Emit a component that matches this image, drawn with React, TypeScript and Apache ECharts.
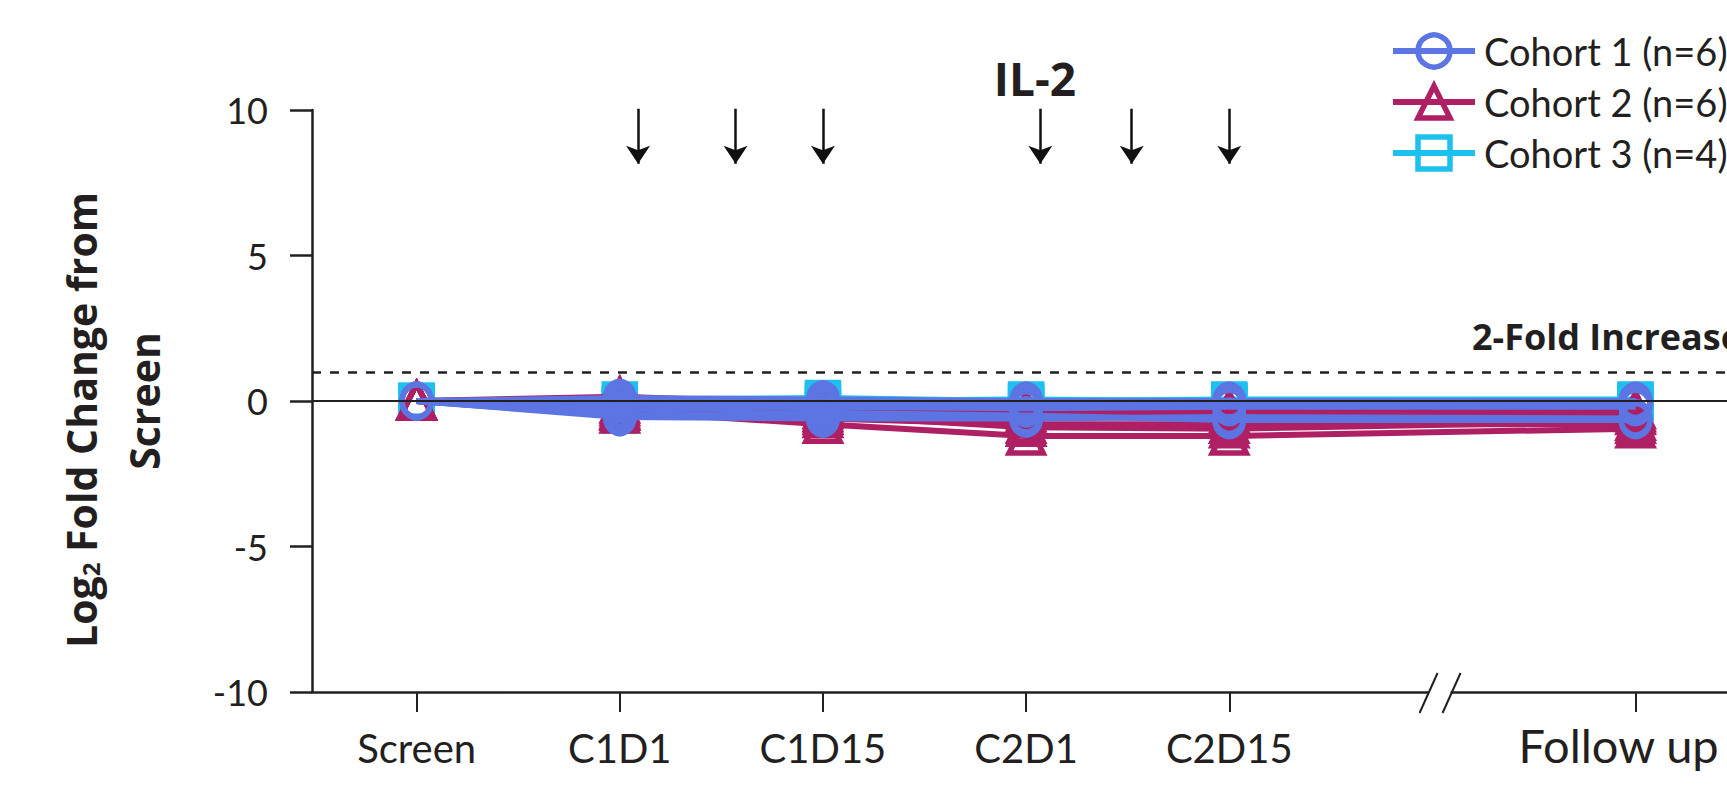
import React, { useEffect, useRef } from 'react';
import * as echarts from 'echarts';

// ---- data ----
const categories = ['Screen', 'C1D1', 'C1D15', 'C2D1', 'C2D15', '', 'Follow up'];
const timepointX = [0, 1, 2, 3, 4, 6];
const cohortNames = ['Cohort 1 (n=6)', 'Cohort 2 (n=6)', 'Cohort 3 (n=4)'];

// Log2 fold change from screen, one row per patient: Screen, C1D1, C1D15, C2D1, C2D15, Follow up
const cohort1 = [
  [0, 0.1, 0.05, 0.0, 0.0, 0.0],
  [0, -0.1, -0.05, -0.1, -0.05, -0.1],
  [0, -0.3, -0.2, -0.25, -0.2, -0.2],
  [0, -0.55, -0.6, -0.6, -0.55, -0.6],
  [0, 0.0, -0.1, -0.05, -0.1, -0.05],
  [0, -0.5, -0.4, -0.5, -0.65, -0.65],
];
const cohort2 = [
  [0, 0.15, -0.1, -0.3, -0.3, -0.3],
  [0, -0.2, -0.4, -0.5, -0.45, -0.4],
  [0, -0.35, -0.8, -1.2, -1.2, -0.95],
  [0, -0.45, -0.6, -0.8, -0.8, -0.8],
  [0, -0.1, -0.3, -0.4, -0.6, -0.5],
  [0, -0.3, -0.5, -0.9, -0.95, -0.7],
];
const cohort3 = [
  [0, 0.05, 0.1, 0.0, 0.05, 0.05],
  [0, -0.5, -0.3, -0.2, -0.1, -0.1],
  [0, -0.2, -0.1, -0.05, 0.0, 0.0],
  [0, -0.1, 0.0, 0.05, 0.0, -0.05],
];
const dosingArrows = [1.09, 1.57, 2, 3.07, 3.52, 4];
const yTickLabels = ['-10', '-5', '0', '5', '10'];
const twoFoldLevel = 1;
const axisBreakAt = 5.04;

const C1 = '#5C75E2';
const C2 = '#AE1F63';
const C3 = '#1DC0EF';
const INK = '#231F20';
const FONT = 'Lato';
const BOLD_FONT = 'Open Sans';

function cohortSeries(name: string, rows: number[][], color: string, symbol: string, size: any, z: number) {
  return rows.map((r) => ({
    type: 'line',
    name,
    data: r.map((v, i) => [timepointX[i], v]),
    symbol,
    symbolSize: size,
    showAllSymbol: true,
    lineStyle: { color, width: 6 },
    itemStyle: { color: 'rgba(255,255,255,0)', borderColor: color, borderWidth: 5.5 },
    emphasis: { disabled: true },
    z,
  }));
}

export default function App() {
  const ref = useRef<HTMLDivElement>(null);
  useEffect(() => {
    if (!ref.current) return;
    const chart = echarts.init(ref.current, undefined, { renderer: 'svg' });
    const option: any = {
      animation: false,
      textStyle: { fontFamily: FONT },
      title: {
        text: 'IL-2',
        left: 1030,
        textAlign: 'center',
        top: 50,
        textStyle: { fontSize: 46, fontWeight: 'bold', color: INK, fontFamily: BOLD_FONT },
      },
      legend: {
        data: cohortNames,
        orient: 'vertical',
        left: 1385,
        top: 27,
        itemWidth: 82,
        itemHeight: 40,
        itemGap: 13,
        selectedMode: false,
        lineStyle: { width: 6 },
        itemStyle: { borderWidth: 5.5 },
        textStyle: { fontSize: 38, color: INK, fontFamily: FONT, padding: [0, 0, 0, 4] },
      },
      grid: { left: 312, right: 0, top: 110, bottom: 93, containLabel: false, outerBoundsMode: 'none' },
      xAxis: {
        type: 'value',
        min: -0.515,
        max: 6.45,
        axisLine: { onZero: false, lineStyle: { color: INK, width: 2.5 } },
        axisTick: { customValues: timepointX, length: 20, lineStyle: { color: INK, width: 2 } },
        axisLabel: {
          customValues: timepointX,
          margin: 36,
          fontSize: 40,
          color: INK,
          fontFamily: FONT,
          hideOverlap: false,
          formatter: (v: number) => {
            const i = Math.round(v);
            return i === 6 ? '{f|' + categories[i] + '}' : categories[i];
          },
          rich: {
            f: { fontSize: 47, color: INK, fontFamily: FONT, padding: [0, 34, 0, 0], lineHeight: 34 },
          },
        },
        splitLine: { show: false },
      },
      yAxis: {
        type: 'value',
        min: -10,
        max: 10,
        interval: 5,
        name: '{a|Log}{s|2}{a| Fold Change from}{p| }\n{a|Screen}',
        nameLocation: 'middle',
        nameGap: 137,
        nameTextStyle: {
          lineHeight: 63,
          rich: {
            a: { fontSize: 41, fontWeight: 'bold', color: INK, fontFamily: BOLD_FONT, lineHeight: 63 },
            p: { fontSize: 41, width: 38, lineHeight: 63 },
            s: { fontSize: 24, fontWeight: 'bold', color: INK, fontFamily: BOLD_FONT, padding: [20, 0, 0, 0], lineHeight: 63 },
          },
        },
        axisLine: { show: true, onZero: false, lineStyle: { color: INK, width: 2.5 } },
        axisTick: { show: true, length: 22, lineStyle: { color: INK, width: 2.5 } },
        axisLabel: {
          margin: 44,
          fontSize: 36,
          color: INK,
          fontFamily: FONT,
          formatter: (v: number) => yTickLabels[(v + 10) / 5],
        },
        splitLine: { show: false },
      },
      series: [
        {
          type: 'line',
          name: 'reference',
          data: [],
          z: 1,
          markLine: {
            silent: true,
            symbol: 'none',
            label: { show: false },
            data: [
              { yAxis: 0, lineStyle: { type: 'solid', color: INK, width: 2 } },
              { yAxis: twoFoldLevel, lineStyle: { type: [9, 9], color: INK, width: 2.5 } },
            ],
          },
        },
        {
          type: 'lines',
          coordinateSystem: 'cartesian2d',
          z: 5,
          symbol: ['none', 'arrow'],
          symbolSize: [13, 18],
          lineStyle: { color: '#111', width: 2.5, opacity: 1 },
          data: dosingArrows.map((x) => ({ coords: [[x, 10.1], [x, 8.15]] })),
        },
        ...cohortSeries(cohortNames[2], cohort3, C3, 'rect', 31, 2),
        ...cohortSeries(cohortNames[1], cohort2, C2, 'triangle', 34, 3),
        ...cohortSeries(cohortNames[0], cohort1, C1, 'circle', [29, 33], 4),
      ],
    };
    chart.setOption(option);
    const bx = chart.convertToPixel({ xAxisIndex: 0 }, axisBreakAt) as number;
    const by = chart.convertToPixel({ yAxisIndex: 0 }, -10) as number;
    chart.setOption({
      graphic: [
        { type: 'rect', shape: { x: bx - 12, y: by - 5, width: 22, height: 10 }, style: { fill: '#fff' }, z: 10 },
        { type: 'line', shape: { x1: bx - 21, y1: by + 21, x2: bx - 3, y2: by - 19 }, style: { stroke: INK, lineWidth: 2 }, z: 11 },
        { type: 'line', shape: { x1: bx + 2, y1: by + 21, x2: bx + 20, y2: by - 19 }, style: { stroke: INK, lineWidth: 2 }, z: 11 },
        {
          type: 'text',
          x: 1472,
          y: 336,
          style: { text: '2-Fold Increase', font: `bold 36px ${BOLD_FONT}`, fill: INK, verticalAlign: 'middle' },
          z: 11,
        },
      ],
    });
    return () => chart.dispose();
  }, []);
  return <div ref={ref} style={{ position: 'absolute', left: 0, top: 0, width: 1727, height: 785 }} />;
}
